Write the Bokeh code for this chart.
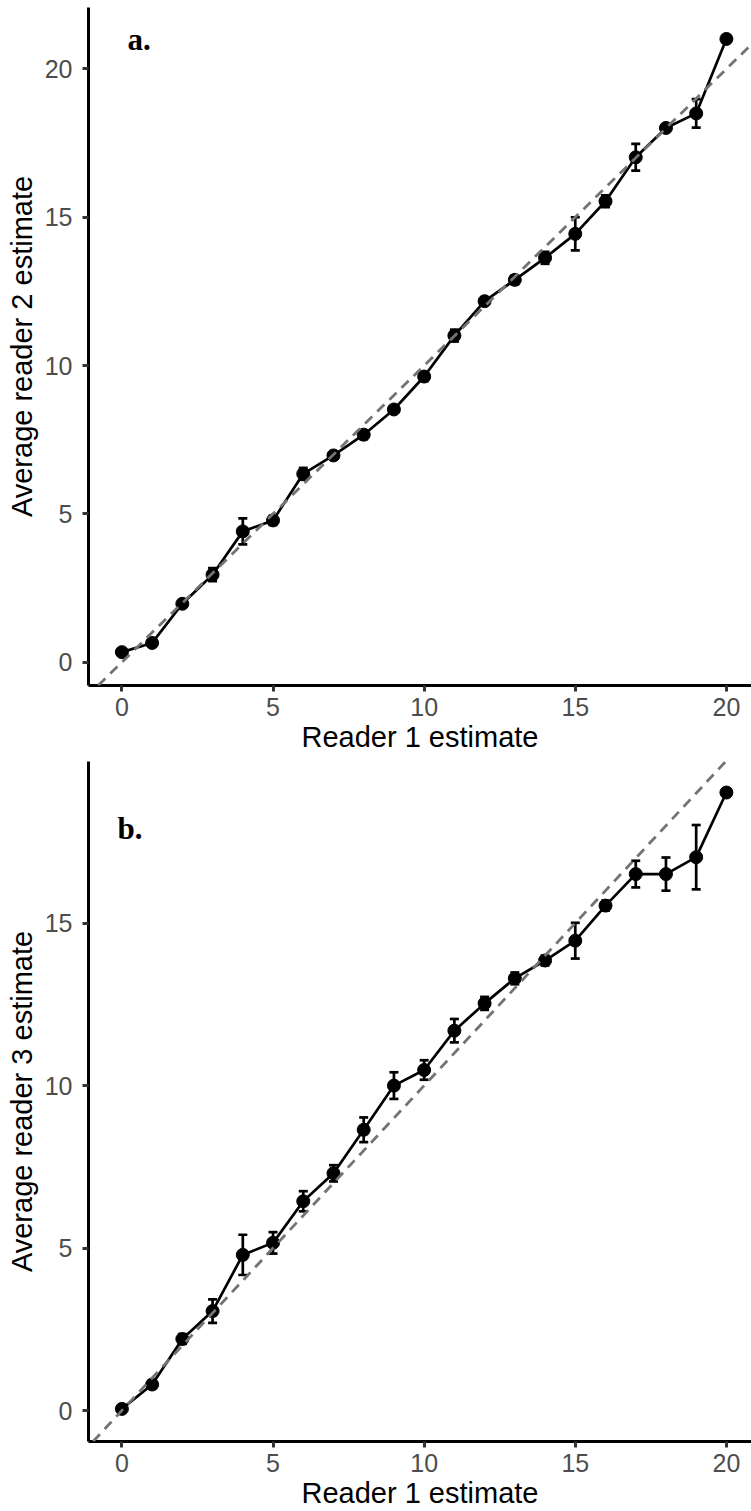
from bokeh.plotting import figure
from bokeh.models import Range1d, Slope, Whisker, ColumnDataSource, Label, TeeHead
from bokeh.layouts import column
from bokeh.embed import file_html
from bokeh.resources import INLINE

# ---------------- data ----------------
reader1 = list(range(21))
x_ticks = [0, 5, 10, 15, 20]
y_ticks = [0, 5, 10, 15, 20]

reader2_mean = [0.34, 0.65, 1.97, 2.95, 4.41, 4.78, 6.35, 6.97, 7.67, 8.52, 9.63,
                11.01, 12.17, 12.89, 13.63, 14.44, 15.54, 17.02, 18.01, 18.50, 21.01]
reader2_err = [0.0, 0.05, 0.06, 0.22, 0.44, 0.15, 0.20, 0.10, 0.15, 0.05, 0.15,
               0.20, 0.10, 0.15, 0.20, 0.56, 0.20, 0.45, 0.0, 0.48, 0.0]

reader3_mean = [0.05, 0.80, 2.20, 3.06, 4.79, 5.16, 6.44, 7.30, 8.64, 10.00, 10.48,
                11.69, 12.53, 13.30, 13.85, 14.46, 15.54, 16.51, 16.51, 17.03, 19.02]
reader3_err = [0.0, 0.12, 0.15, 0.36, 0.62, 0.33, 0.31, 0.25, 0.38, 0.41, 0.30,
               0.36, 0.20, 0.18, 0.15, 0.55, 0.15, 0.41, 0.51, 0.99, 0.0]

panel_labels = ["a.", "b."]
y_titles = ["Average reader 2 estimate", "Average reader 3 estimate"]
x_title = "Reader 1 estimate"

SANS = "Liberation Sans"
SERIF = "Liberation Serif"


def make_panel(mean, err, y_title, tag, y_rng, height, top, tag_xy):
    p = figure(width=751, height=height, output_backend="svg", toolbar_location=None,
               x_range=Range1d(-1.105, 20.83), y_range=Range1d(*y_rng),
               min_border_left=88, min_border_right=0, min_border_top=top,
               min_border_bottom=70)
    p.grid.visible = False
    p.outline_line_color = None
    p.background_fill_color = "white"
    p.border_fill_color = "white"

    for ax in (p.xaxis[0], p.yaxis[0]):
        ax.axis_line_color = "black"
        ax.axis_line_width = 3
        ax.major_tick_line_color = "#333333"
        ax.major_tick_line_width = 3
        ax.major_tick_out = 6
        ax.major_tick_in = 0
        ax.minor_tick_line_color = None
        ax.major_label_text_color = "#4d4d4d"
        ax.major_label_text_font = SANS
        ax.major_label_text_font_size = "25px"
        ax.axis_label_text_font = SANS
        ax.axis_label_text_font_size = "29px"
        ax.axis_label_text_font_style = "normal"
        ax.axis_label_text_color = "black"
    p.xaxis.ticker = x_ticks
    p.yaxis.ticker = y_ticks
    p.xaxis.axis_label = x_title
    p.yaxis.axis_label = y_title
    p.xaxis.major_label_standoff = 6
    p.xaxis.axis_label_standoff = 2
    p.yaxis.major_label_standoff = 10
    p.yaxis.axis_label_standoff = 4

    # identity line
    p.add_layout(Slope(gradient=1, y_intercept=0, line_color="#737373",
                       line_width=2.8, line_dash="10 7"))

    # error bars (only where a spread exists)
    ex = [x for x, e in zip(reader1, err) if e > 0]
    eu = [m + e for m, e in zip(mean, err) if e > 0]
    el = [m - e for m, e in zip(mean, err) if e > 0]
    src_e = ColumnDataSource(dict(x=ex, upper=eu, lower=el))
    p.add_layout(Whisker(base="x", upper="upper", lower="lower", source=src_e,
                         line_color="black", line_width=2.7,
                         upper_head=TeeHead(size=9, line_width=2.7, line_color="black"),
                         lower_head=TeeHead(size=9, line_width=2.7, line_color="black")))

    src = ColumnDataSource(dict(x=reader1, y=mean))
    p.line("x", "y", source=src, line_color="black", line_width=2.7)
    p.scatter("x", "y", source=src, size=13, fill_color="black", line_color="black")

    p.add_layout(Label(x=tag_xy[0], y=tag_xy[1], text=tag, text_font=SERIF,
                       text_font_style="bold", text_font_size="31px",
                       text_color="black", text_baseline="alphabetic"))
    return p


p1 = make_panel(reader2_mean, reader2_err, y_titles[0], panel_labels[0],
                (-0.785, 22.07), 755, 7, (0.185, 21.0))
p2 = make_panel(reader3_mean, reader3_err, y_titles[1], panel_labels[1],
                (-0.954, 19.975), 756, 6, (-0.145, 17.9))

layout = column(p1, p2, spacing=0)
open("out.html", "w").write(file_html(layout, INLINE))
